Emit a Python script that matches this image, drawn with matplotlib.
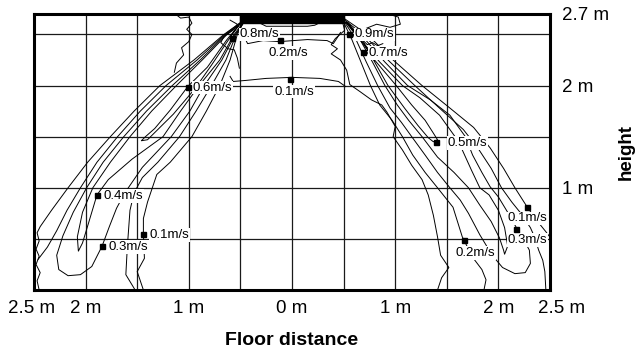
import matplotlib
matplotlib.use("Agg")
import matplotlib.pyplot as plt
import matplotlib.transforms as mtransforms
from matplotlib.patches import Rectangle

plt.rcParams['font.family'] = ['Liberation Sans', 'DejaVu Sans']

# axes values (m)
x_grid = [-2.5, -2.0, -1.5, -1.0, -0.5, 0.0, 0.5, 1.0, 1.5, 2.0, 2.5]
y_grid = [0.5, 1.0, 1.5, 2.0, 2.5]
x_ticks = [-2.5, -2, -1, 0, 1, 2, 2.5]
x_ticklabels = ['2.5 m', '2 m', '1 m', '0 m', '1 m', '2 m', '2.5 m']
y_ticks = [1, 2, 2.7]
y_ticklabels = ['1 m', '2 m', '2.7 m']

# ceiling diffuser (x from, x to, y from, y to)
diffuser = [-0.50, 0.50, 2.61, 2.70]

# isovelocity lines, (x m, y m)
# left jet
left_01_out = [(-0.48, 2.63), (-0.66, 2.50), (-0.95, 2.25), (-1.28, 2.00), (-1.53, 1.75),
               (-1.76, 1.50), (-1.98, 1.25), (-2.17, 1.00), (-2.33, 0.78), (-2.44, 0.62),
               (-2.47, 0.56), (-2.45, 0.48), (-2.48, 0.40), (-2.45, 0.33), (-2.48, 0.25),
               (-2.44, 0.17), (-2.47, 0.09), (-2.45, 0.0)]
left_02_out = [(-0.48, 2.63), (-0.65, 2.50), (-0.92, 2.25), (-1.22, 2.00), (-1.47, 1.75),
               (-1.69, 1.50), (-1.89, 1.25), (-2.05, 1.00), (-2.18, 0.78), (-2.28, 0.58),
               (-2.37, 0.42), (-2.46, 0.30)]
left_03_loop = [(-0.48, 2.62), (-0.64, 2.50), (-0.89, 2.25), (-1.16, 2.00), (-1.41, 1.75),
                (-1.63, 1.50), (-1.83, 1.25), (-1.99, 1.00), (-2.12, 0.76), (-2.22, 0.53),
                (-2.28, 0.34), (-2.26, 0.20), (-2.17, 0.14), (-2.05, 0.15), (-1.94, 0.23),
                (-1.84, 0.43), (-1.77, 0.62), (-1.70, 0.80), (-1.62, 0.95), (-1.45, 1.20),
                (-1.17, 1.50), (-0.99, 1.75), (-0.85, 2.00), (-0.68, 2.25), (-0.55, 2.50),
                (-0.47, 2.61)]
left_04_loop = [(-0.48, 2.62), (-0.63, 2.50), (-0.87, 2.25), (-1.12, 2.00), (-1.36, 1.75),
                (-1.57, 1.50), (-1.76, 1.25), (-1.93, 1.00), (-2.03, 0.76), (-2.08, 0.52),
                (-2.07, 0.38), (-2.03, 0.46), (-1.97, 0.66), (-1.89, 0.93), (-1.78, 1.08),
                (-1.55, 1.28), (-1.25, 1.50), (-1.08, 1.75), (-0.90, 2.00), (-0.70, 2.25),
                (-0.56, 2.50), (-0.48, 2.61)]
left_06_loop = [(-0.50, 2.61), (-0.63, 2.45), (-0.82, 2.18), (-1.01, 1.99), (-1.18, 1.76),
                (-1.33, 1.58), (-1.42, 1.50), (-1.46, 1.46), (-1.40, 1.47), (-1.31, 1.56),
                (-1.15, 1.72), (-0.94, 1.97), (-0.78, 2.20), (-0.62, 2.44), (-0.50, 2.61)]
left_02_in = [(-0.47, 2.62), (-0.54, 2.50), (-0.64, 2.25), (-0.78, 2.00), (-0.93, 1.75),
              (-1.09, 1.50), (-1.30, 1.25), (-1.45, 1.10), (-1.53, 0.95), (-1.57, 0.78),
              (-1.59, 0.50), (-1.60, 0.34), (-1.61, 0.15), (-1.52, 0.0)]
left_01_in = [(-0.47, 2.62), (-0.53, 2.50), (-0.60, 2.25), (-0.70, 2.00), (-0.83, 1.75),
              (-0.97, 1.50), (-1.18, 1.25), (-1.31, 1.13), (-1.40, 0.86), (-1.44, 0.70),
              (-1.44, 0.55), (-1.43, 0.31), (-1.50, 0.18), (-1.44, 0.0)]
left_ceiling_wave = [(-1.13, 2.70), (-1.08, 2.66), (-1.00, 2.67), (-0.97, 2.61), (-1.02, 2.55),
                     (-0.97, 2.50), (-1.00, 2.43), (-1.07, 2.37), (-1.05, 2.30), (-1.12, 2.22),
                     (-1.14, 2.13)]
left_core_wave = [(-0.60, 2.64), (-0.53, 2.60), (-0.56, 2.55), (-0.66, 2.48), (-0.69, 2.42),
                  (-0.62, 2.36), (-0.56, 2.35), (-0.53, 2.27), (-0.51, 2.17)]

# centre, under the diffuser
top_arc = [(-0.31, 2.61), (-0.25, 2.58), (-0.09, 2.58), (0.15, 2.58), (0.22, 2.59), (0.26, 2.61)]
top_02 = [(-0.46, 2.47), (-0.43, 2.41), (-0.28, 2.44), (-0.12, 2.43), (0.15, 2.45),
          (0.34, 2.44), (0.40, 2.41), (0.44, 2.47), (0.47, 2.52)]
top_01 = [(-0.60, 2.09), (-0.57, 2.04), (-0.45, 2.05), (-0.25, 2.07), (0.00, 2.08),
          (0.27, 2.07), (0.45, 2.04), (0.52, 1.99)]

# right jet
right_01_in = [(0.49, 2.62), (0.51, 2.54), (0.42, 2.46), (0.38, 2.40), (0.44, 2.36), (0.38, 2.31),
               (0.47, 2.25), (0.53, 2.15), (0.56, 2.01), (0.66, 1.94), (0.77, 1.86), (0.87, 1.81),
               (0.92, 1.74), (1.00, 1.60), (0.98, 1.50), (1.07, 1.37), (1.16, 1.22), (1.26, 1.08),
               (1.32, 0.93), (1.37, 0.73), (1.41, 0.52), (1.44, 0.34), (1.52, 0.22), (1.45, 0.12),
               (1.41, 0.0)]
right_02_in = [(0.50, 2.62), (0.58, 2.45), (0.66, 2.25), (0.76, 2.00), (0.85, 1.81), (0.97, 1.66),
               (1.07, 1.50), (1.17, 1.32), (1.29, 1.15), (1.41, 1.00), (1.56, 0.81), (1.65, 0.52),
               (1.75, 0.32), (1.84, 0.20), (1.88, 0.10), (1.86, 0.0)]
right_03_loop = [(0.51, 2.62), (0.62, 2.45), (0.72, 2.23), (0.83, 2.00), (0.95, 1.78), (1.06, 1.64),
                 (1.16, 1.50), (1.29, 1.32), (1.41, 1.15), (1.53, 1.00), (1.63, 0.88), (1.71, 0.75),
                 (1.82, 0.54), (1.94, 0.34), (2.04, 0.22), (2.16, 0.16), (2.26, 0.17), (2.31, 0.26),
                 (2.30, 0.39), (2.23, 0.52), (2.18, 0.60), (2.09, 0.76), (2.00, 0.91), (1.92, 1.01),
                 (1.84, 1.15), (1.75, 1.32), (1.68, 1.50), (1.53, 1.71), (1.34, 1.86), (1.12, 2.00),
                 (0.90, 2.23), (0.71, 2.45), (0.52, 2.62)]
right_04_loop = [(0.52, 2.62), (0.67, 2.43), (0.78, 2.23), (0.90, 2.00), (1.02, 1.81), (1.13, 1.66),
                 (1.26, 1.50), (1.41, 1.30), (1.57, 1.15), (1.71, 1.00), (1.82, 0.83), (1.93, 0.67),
                 (2.01, 0.51), (2.05, 0.39), (2.06, 0.35), (2.09, 0.43), (2.06, 0.61), (2.00, 0.78),
                 (1.91, 0.93), (1.82, 1.00), (1.74, 1.17), (1.65, 1.37), (1.58, 1.50), (1.43, 1.71),
                 (1.24, 1.88), (1.07, 2.00), (0.85, 2.23), (0.68, 2.43), (0.53, 2.62)]
right_05_loop = [(0.53, 2.62), (0.68, 2.45), (0.79, 2.25), (0.93, 2.00), (1.09, 1.78), (1.22, 1.61),
                 (1.32, 1.49), (1.37, 1.45), (1.41, 1.47), (1.36, 1.55), (1.29, 1.66), (1.16, 1.81),
                 (1.01, 2.00), (0.80, 2.25), (0.66, 2.45), (0.54, 2.62)]
right_01_out = [(0.50, 2.66), (0.73, 2.50), (0.98, 2.25), (1.26, 2.00), (1.53, 1.78), (1.76, 1.59),
                (1.92, 1.39), (2.05, 1.19), (2.16, 1.00), (2.28, 0.81), (2.38, 0.67), (2.46, 0.57),
                (2.49, 0.53)]
right_02_out = [(0.50, 2.65), (0.71, 2.48), (0.94, 2.24), (1.19, 2.00), (1.45, 1.76), (1.66, 1.57),
                (1.80, 1.39), (1.93, 1.19), (2.03, 1.00), (2.13, 0.86), (2.21, 0.76), (2.31, 0.61),
                (2.35, 0.52), (2.39, 0.39), (2.43, 0.29), (2.45, 0.18), (2.46, 0.0)]
right_07_wave = [(0.69, 2.44), (0.73, 2.40), (0.78, 2.42), (0.83, 2.39), (0.88, 2.41)]
right_ceiling_wave = [(0.93, 2.70), (1.03, 2.67), (1.05, 2.60), (0.95, 2.57), (0.82, 2.60), (0.72, 2.56)]

contour_lines = [left_01_out, left_02_out, left_03_loop, left_04_loop, left_06_loop,
                 left_02_in, left_01_in, left_ceiling_wave, left_core_wave,
                 top_arc, top_02, top_01,
                 right_01_in, right_02_in, right_03_loop, right_04_loop, right_05_loop,
                 right_01_out, right_02_out, right_07_wave, right_ceiling_wave]

# velocity labels: text, marker x, marker y, text x, text y, alignment
speed_labels = [
    ('0.8m/s', -0.58, 2.47, -0.51, 2.50, 'left'),
    ('0.2m/s', -0.12, 2.45, -0.04, 2.32, 'center'),
    ('0.6m/s', -1.01, 1.99, -0.96, 1.98, 'left'),
    ('0.1m/s', -0.02, 2.06, 0.02, 1.94, 'center'),
    ('0.9m/s', 0.55, 2.50, 0.61, 2.50, 'left'),
    ('0.7m/s', 0.69, 2.33, 0.74, 2.32, 'left'),
    ('0.5m/s', 1.40, 1.45, 1.51, 1.44, 'left'),
    ('0.4m/s', -1.89, 0.93, -1.83, 0.92, 'left'),
    ('0.1m/s', -1.44, 0.55, -1.38, 0.54, 'left'),
    ('0.3m/s', -1.84, 0.43, -1.78, 0.42, 'left'),
    ('0.1m/s', 2.28, 0.81, 2.28, 0.70, 'center'),
    ('0.3m/s', 2.17, 0.60, 2.28, 0.49, 'center'),
    ('0.2m/s', 1.67, 0.49, 1.78, 0.36, 'center'),
]

fig = plt.figure(figsize=(6.41, 3.51), dpi=100)
ax = fig.add_axes([34 / 641, 61 / 351, 516 / 641, 276 / 351])

for line in contour_lines:
    xs = [p[0] for p in line]
    ys = [p[1] for p in line]
    ax.plot(xs, ys, color='black', lw=0.7, zorder=2)

ax.add_patch(Rectangle((diffuser[0], diffuser[2]), diffuser[1] - diffuser[0],
                       diffuser[3] - diffuser[2], color='black', zorder=5))

for text, mx, my, tx, ty, ha in speed_labels:
    ax.plot(mx, my, 's', color='black', ms=3.6, zorder=4)
    ax.text(tx, ty, text, fontsize=9.5, ha=ha, va='center', zorder=3,
            bbox=dict(facecolor='white', edgecolor='none', pad=0.6))

ax.set_xlim(-2.5, 2.5)
ax.set_ylim(0, 2.7)

ax.set_xticks(x_ticks, x_ticklabels)
ax.set_xticks(x_grid, minor=True)
ax.yaxis.tick_right()
ax.set_yticks(y_ticks, y_ticklabels)
ax.set_yticks(y_grid, minor=True)
ax.grid(which='both', color='#1a1a1a', lw=0.9, zorder=1)
ax.set_axisbelow(True)
ax.tick_params(which='both', length=0)
ax.tick_params(axis='x', labelsize=13.5, pad=7)
ax.tick_params(axis='y', labelsize=13.5, pad=9)

# outer "2.5 m" labels sit a little outside the frame
xl = ax.get_xticklabels()
xl[0].set_transform(xl[0].get_transform() + mtransforms.ScaledTranslation(-2 / 100, 0, fig.dpi_scale_trans))
xl[-1].set_transform(xl[-1].get_transform() + mtransforms.ScaledTranslation(12 / 100, 0, fig.dpi_scale_trans))

for sp in ax.spines.values():
    sp.set_linewidth(2.2)
    sp.set_zorder(6)

ax.set_xlabel('Floor distance', fontsize=14, fontweight='bold', labelpad=11)
ax.yaxis.set_label_position('right')
ax.set_ylabel('height', fontsize=13.5, fontweight='bold', labelpad=6)

fig.savefig('out.png', dpi=100)
